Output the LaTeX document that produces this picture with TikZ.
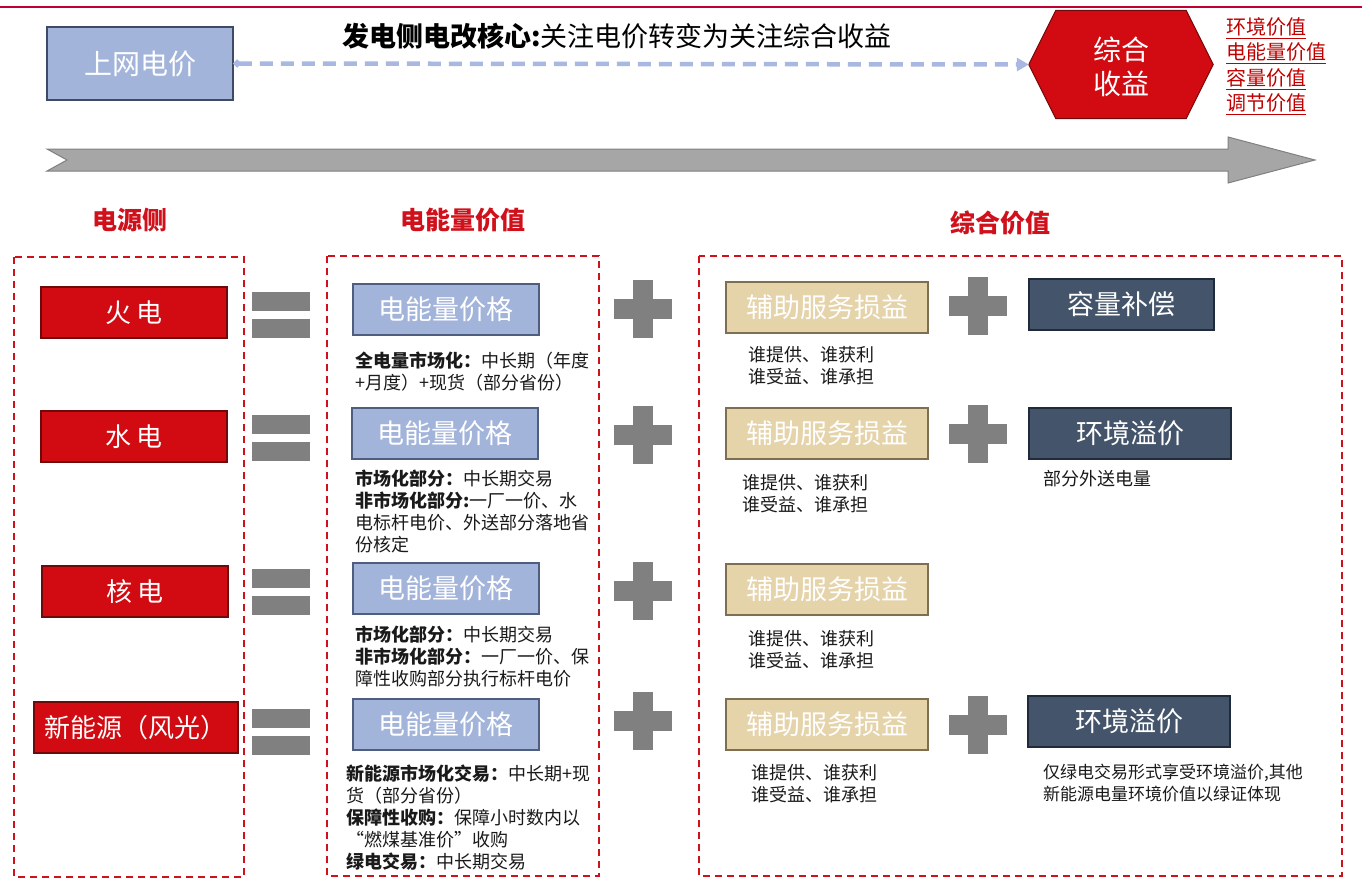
\documentclass[tikz,border=0pt]{standalone}
\usepackage{fontspec}
\setmainfont{Noto Sans CJK SC}
\usetikzlibrary{calc,arrows.meta,backgrounds}
\definecolor{topred}{HTML}{C00030}
\definecolor{boxred}{HTML}{D20A11}
\definecolor{boxredborder}{HTML}{6E0A0A}
\definecolor{dashred}{HTML}{D0101A}
\definecolor{lblue}{HTML}{A3B4DB}
\definecolor{lblueborder}{HTML}{4F5D7F}
\definecolor{dashblue}{HTML}{A9B8E0}
\definecolor{beige}{HTML}{E5D3AA}
\definecolor{beigeborder}{HTML}{7F6F50}
\definecolor{navy}{HTML}{44546A}
\definecolor{navyborder}{HTML}{1F2A3A}
\definecolor{symgray}{HTML}{808080}
\definecolor{arrowgray}{HTML}{A6A6A6}
\definecolor{labred}{HTML}{C00000}
\definecolor{bodytext}{HTML}{1A1A1A}
\tikzset{
  boxbase/.style={draw, line width=1.2pt, minimum height=51pt, text=white, inner sep=0pt,
    font=\fontsize{27}{30}\selectfont},
  redbox/.style={boxbase, fill=boxred, draw=boxredborder, font=\fontsize{26}{28}\selectfont},
  bluebox/.style={boxbase, fill=lblue, draw=lblueborder, minimum width=186pt},
  beigebox/.style={boxbase, fill=beige, draw=beigeborder, minimum width=202pt},
  navybox/.style={boxbase, fill=navy, draw=navyborder},
  bodytxt/.style={anchor=north west, inner sep=0pt, align=left, text=bodytext,
    font=\fontsize{18}{22}\selectfont},
  header/.style={text=dashred, font=\fontsize{25}{28}\selectfont\bfseries},
  valuelabel/.style={anchor=west, inner sep=0pt, text=labred, font=\fontsize{20}{22}\selectfont},
  groupbox/.style={dashred, line width=2pt, dash pattern=on 7pt off 5pt},
}
\newcommand{\eqsign}[1]{%
  \fill[symgray] (252,#1) rectangle (310,#1+19);
  \fill[symgray] (252,#1+27) rectangle (310,#1+46);}
\newcommand{\plussign}[2]{%
  \fill[symgray] (#1-29,#2-10) rectangle (#1+29,#2+10);
  \fill[symgray] (#1-10,#2-29) rectangle (#1+10,#2+29);}
\begin{document}
\begin{tikzpicture}[x=1pt,y=-1pt]
\useasboundingbox (0,0) rectangle (1369,881);
% top line
\draw[topred, line width=2pt] (0,7) -- (1362,7);

% title
\node[font=\fontsize{27}{30}\selectfont, text=black] (title) at (617,36)
  {\textbf{发电侧电改核心:}关注电价转变为关注综合收益};

% 上网电价
\node[boxbase, fill=lblue, draw=lblueborder!80!black, minimum width=186pt, minimum height=73pt,
  font=\fontsize{28}{32}\selectfont] (price) at (140,63.5) {上网电价};

% hexagon
\node[text=white, minimum width=184pt, minimum height=113pt, inner sep=0pt, align=center,
  font=\fontsize{28}{34}\selectfont] (hex) at (1121,67) {综合\\收益};
\begin{scope}[on background layer]
\fill[white] (0,0) rectangle (1369,881);
\draw[fill=boxred, draw=boxredborder, line width=1pt]
  ($(hex.west)+(0,-2.5)$) -- ($(hex.north west)+(27,0)$) -- ($(hex.north east)+(-27,0)$) -- ($(hex.east)+(0,-2.5)$)
  -- ($(hex.south east)+(-27,-5)$) -- ($(hex.south west)+(27,-5)$) -- cycle;
\end{scope}

\draw[dashblue, line width=4.5pt, dash pattern=on 13pt off 8pt,
  {Circle[length=7pt]}-{Triangle[length=12pt,width=13pt]}] (price.east) -- ($(hex.west)+(0,-2.5)$);

% value labels
\node[valuelabel] (v1) at (1226,28) {\underline{环境价值}};
\node[valuelabel] (v2) at (1226,53) {\underline{电能量价值}};
\node[valuelabel] (v3) at (1226,79) {\underline{容量价值}};
\node[valuelabel] (v4) at (1226,104) {\underline{调节价值}};

% big arrow
\draw[fill=arrowgray, draw=symgray, line width=1pt]
  (47,149) -- (1228,149) -- (1228,137) -- (1315,160) -- (1228,183) -- (1228,171)
  -- (47,171) -- (67,160) -- cycle;

% headers
\node[header] (h1) at (130,220) {电源侧};
\node[header] (h2) at (463,220) {电能量价值};
\node[header] (h3) at (1000,223) {综合价值};

% group boxes
\draw[groupbox] (14,257) rectangle (244,877);
\draw[groupbox] (327,256) rectangle (599,876);
\draw[groupbox] (699,256) rectangle (1342,876);

% sources
\node[redbox, minimum width=186pt] (s1) at (134,312.5) {火\,电};
\node[redbox, minimum width=186pt] (s2) at (134,436.5) {水\,电};
\node[redbox, minimum width=186pt] (s3) at (135,591.5) {核\,电};
\node[redbox, minimum width=204pt] (s4) at (136,727.5) {新能源（风光）};

% equals
\eqsign{292}
\eqsign{415}
\eqsign{569}
\eqsign{709}

% energy price boxes
\node[bluebox] (p1) at (446,309.5) {电能量价格};
\node[bluebox] (p2) at (445,433.5) {电能量价格};
\node[bluebox] (p3) at (446,588.5) {电能量价格};
\node[bluebox] (p4) at (446,724.5) {电能量价格};

\node[bodytxt] (t1) at (355,352) {\textbf{全电量市场化：}中长期（年度\\+月度）+现货（部分省份）};
\node[bodytxt] (t2) at (355,470) {\textbf{市场化部分：}中长期交易\\\textbf{非市场化部分:}一厂一价、水\\电标杆电价、外送部分落地省\\份核定};
\node[bodytxt] (t3) at (355,626) {\textbf{市场化部分：}中长期交易\\\textbf{非市场化部分：}一厂一价、保\\障性收购部分执行标杆电价};
\node[bodytxt] (t4) at (346,765) {\textbf{新能源市场化交易：}中长期+现\\货（部分省份）\\\textbf{保障性收购：}保障小时数内以\\“燃煤基准价”收购\\\textbf{绿电交易：}中长期交易};

% plus signs
\plussign{643}{309}
\plussign{643}{435}
\plussign{643}{591}
\plussign{643}{721}
\plussign{978}{306}
\plussign{978}{434}
\plussign{978}{725}

% ancillary
\node[beigebox] (a1) at (827,307.5) {辅助服务损益};
\node[beigebox] (a2) at (827,433.5) {辅助服务损益};
\node[beigebox] (a3) at (827,589.5) {辅助服务损益};
\node[beigebox] (a4) at (827,724.5) {辅助服务损益};

\node[bodytxt] (u1) at (748,346) {谁提供、谁获利\\谁受益、谁承担};
\node[bodytxt] (u2) at (742,474) {谁提供、谁获利\\谁受益、谁承担};
\node[bodytxt] (u3) at (748,630) {谁提供、谁获利\\谁受益、谁承担};
\node[bodytxt] (u4) at (751,764) {谁提供、谁获利\\谁受益、谁承担};

% navy boxes
\node[navybox, minimum width=185pt] (n1) at (1121.5,304.5) {容量补偿};
\node[navybox, minimum width=202pt] (n2) at (1130,433.5) {环境溢价};
\node[navybox, minimum width=202pt] (n3) at (1129,721.5) {环境溢价};

\node[bodytxt] (w1) at (1043,470) {部分外送电量};
\node[bodytxt, font=\fontsize{17}{22}\selectfont] (w2) at (1043,764) {仅绿电交易形式享受环境溢价,其他\\新能源电量环境价值以绿证体现};
\end{tikzpicture}
\end{document}
